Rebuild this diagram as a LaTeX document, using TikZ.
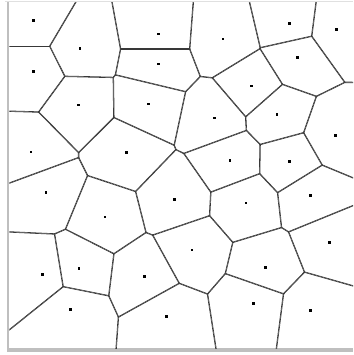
\documentclass[tikz,border=0pt]{standalone}
\usetikzlibrary{calc}
\tikzset{
	seed/.style={rectangle, fill=black, draw=none, inner sep=0pt,
		minimum size=0.085cm},
	celledge/.style={draw=black!78, line width=1.1pt},
	frameside/.style={fill=black!25, draw=none},
	frametop/.style={fill=black!12, draw=none}
}

\begin{document}
\begin{tikzpicture}[x=0.03cm, y=-0.03cm]
	\useasboundingbox (0,0) rectangle (353,355);
	
	%% ---- Window frame ----
	\fill[frametop]  (5,1) rectangle (353,2.3);
	\fill[frameside] (6.7,2.3) rectangle (9.3,352.3);
	\fill[frameside] (6.7,348.3) rectangle (353,352.3);
	
	%% ---- Seeds ----
	\foreach \x/\y [count=\n] in {
		33.3/20.7, 80/48.3, 158.3/34, 223/39, 289.7/23.3, 336.3/29.3,
		33.3/71.7, 158.3/64, 297.3/57.3, 78.7/105, 148.7/104, 251.7/86,
		214.3/118, 277/114.7, 335.7/135.3, 31/152, 126.3/152.7, 230/160.7,
		289.7/161.7, 46/192.7, 105/217, 174.7/199.3, 246/203, 310.7/195.7,
		192/250, 329.7/242.3, 42.3/274.3, 79/268.3, 144.3/276.3,
		265.7/267.7, 70.7/309.7, 166.7/316.7, 253.3/303.3, 310.3/310.7}{
		\node[seed] (p\n) at (\x,\y) {};
	}
	
	%% ---- Cells: clip to each cell, draw the bisectors ----
	\begin{scope}
		\clip (9.3,2.3) rectangle (353,348.3);
		\foreach \i in {1,...,34}{
			\begin{scope}
				\foreach \j in {1,...,34}{
					\ifnum\i=\j\else
					\coordinate (m) at ($(p\i.center)!0.5!(p\j.center)$);
					\clip ($(m)!20cm!90:(p\i.center)$) -- ($(m)!28.28cm!45:(p\i.center)$)
					-- ($(m)!28.28cm!-45:(p\i.center)$) -- ($(m)!20cm!-90:(p\i.center)$) -- cycle;
					\fi
				}
				\foreach \j in {1,...,34}{
					\ifnum\i=\j\else
					\coordinate (m) at ($(p\i.center)!0.5!(p\j.center)$);
					\draw[celledge] ($(m)!20cm!90:(p\i.center)$) -- ($(m)!20cm!-90:(p\i.center)$);
					\fi
				}
			\end{scope}
		}
	\end{scope}
	
\end{tikzpicture}
\end{document}
